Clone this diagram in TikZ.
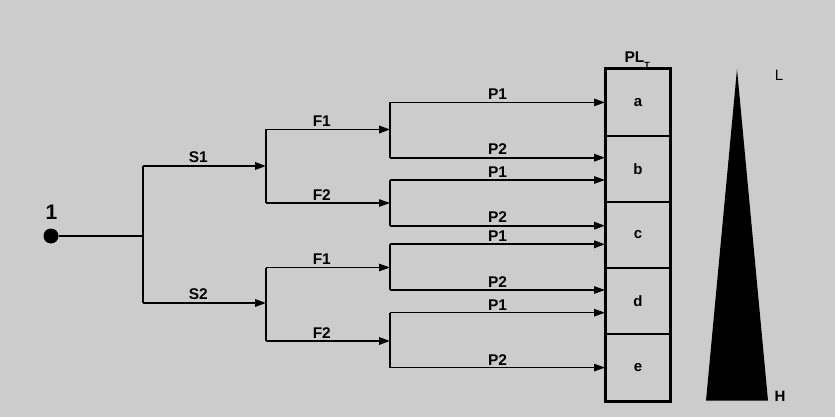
\documentclass[tikz,border=0pt]{standalone}
\usepackage{fontspec}
\setmainfont{Liberation Sans}
\usetikzlibrary{arrows.meta}
\definecolor{bg}{RGB}{204,204,204}
\begin{document}
\begin{tikzpicture}[x=1pt,y=-1pt,
  lab/.style={font=\fontsize{15.5}{17}\selectfont\bfseries, inner sep=2pt, above=0pt},
  ln/.style={draw=black, line width=1.1pt},
  arr/.style={draw=black, line width=1.1pt, -{Triangle[length=11pt,width=7.5pt]}},
  thk/.style={line width=1.9pt},
  cell/.style={draw, line width=2pt, minimum width=64pt, minimum height=66.3pt, inner sep=0pt, font=\fontsize{15}{17}\selectfont\bfseries},
  dot/.style={circle, fill=black, minimum size=15pt, inner sep=0pt}
]
\useasboundingbox (0,0) rectangle (835,417);
\fill[bg] (0,0) rectangle (835,417);

% root
\node[dot] (n1) at (51,236) {};
\node[font=\fontsize{21}{23}\selectfont\bfseries, inner sep=0pt] (one) at (51.5,212.5) {1};
\coordinate (j0) at (143,236);
\coordinate (s1) at (266,166);
\coordinate (s2) at (266,303);
\coordinate (f11) at (390,129.5);
\coordinate (f12) at (390,203);
\coordinate (f21) at (390,267.5);
\coordinate (f22) at (390,341);

% cells
\node[cell] (a) at (638,102.4) {a};
\node[cell] (b) at (638,168.7) {b};
\node[cell] (c) at (638,235) {c};
\node[cell] (d) at (638,301.3) {d};
\node[cell] (e) at (638,367.6) {e};
\draw[line width=2.8pt] (a.north west) rectangle (e.south east);

\node[font=\fontsize{15.5}{17}\selectfont\bfseries, inner sep=0pt] (pl) at (634.5,57) {PL};
\node[font=\fontsize{9}{9}\selectfont\bfseries, inner sep=0pt, anchor=north west] (plt) at ([xshift=-0.5pt]pl.south east) {T};

% targets
\coordinate (ta1) at (a.west);
\coordinate (tb2) at ([yshift=11pt]b.west);
\coordinate (tb1) at ([yshift=-11.3pt]b.west);
\coordinate (tc2) at ([yshift=9.3pt]c.west);
\coordinate (tc1) at ([yshift=-9.3pt]c.west);
\coordinate (td2) at ([yshift=11.3pt]d.west);
\coordinate (td1) at ([yshift=-11.4pt]d.west);
\coordinate (te2) at (e.west);

% level 1
\draw[ln] (n1) -- (j0);
\draw[ln] (j0 |- s1) -- (j0 |- s2);
\draw[arr,thk] (j0 |- s1) -- node[lab,pos=0.45]{S1} (s1);
\draw[arr,thk] (j0 |- s2) -- node[lab,pos=0.45]{S2} (s2);

% level 2
\draw[ln] (s1 |- f11) -- (s1 |- f12);
\draw[ln] (s2 |- f21) -- (s2 |- f22);
\draw[arr,thk] (s1 |- f11) -- node[lab,pos=0.45]{F1} (f11);
\draw[arr] (s1 |- f12) -- node[lab,pos=0.45]{F2} (f12);
\draw[arr] (s2 |- f21) -- node[lab,pos=0.45]{F1} (f21);
\draw[arr,thk] (s2 |- f22) -- node[lab,pos=0.45]{F2} (f22);

% level 3
\draw[ln] (f11 |- ta1) -- (f11 |- tb2);
\draw[ln] (f12 |- tb1) -- (f12 |- tc2);
\draw[ln] (f21 |- tc1) -- (f21 |- td2);
\draw[ln] (f22 |- td1) -- (f22 |- te2);
\draw[arr] (f11 |- ta1) -- node[lab]{P1} (ta1);
\draw[arr,thk] (f11 |- tb2) -- node[lab]{P2} (tb2);
\draw[arr] (f12 |- tb1) -- node[lab]{P1} (tb1);
\draw[arr,thk] (f12 |- tc2) -- node[lab]{P2} (tc2);
\draw[arr,thk] (f21 |- tc1) -- node[lab]{P1} (tc1);
\draw[arr] (f21 |- td2) -- node[lab]{P2} (td2);
\draw[arr] (f22 |- td1) -- node[lab]{P1} (td1);
\draw[arr] (f22 |- te2) -- node[lab]{P2} (te2);

% scale triangle
\coordinate (tip) at (737,69);
\coordinate (bl) at (706,400.7);
\coordinate (br) at (768,400.7);
\fill[black] (tip) -- (br) -- (bl) -- cycle;
\node[font=\fontsize{15}{17}\selectfont, inner sep=0pt] (L) at (779,75.5) {L};
\node[font=\fontsize{15}{17}\selectfont\bfseries, inner sep=0pt] (H) at (780,396) {H};
\end{tikzpicture}
\end{document}
